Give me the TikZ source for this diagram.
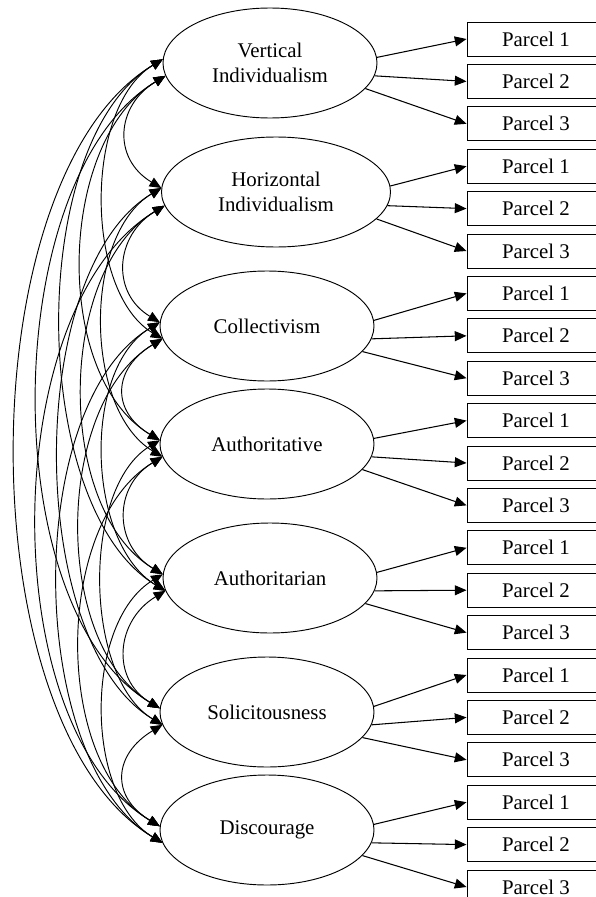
\documentclass[tikz,border=0pt]{standalone}
\usepackage{fontspec}
\setmainfont{Liberation Serif}
\usetikzlibrary{arrows.meta,shapes.geometric}

\begin{document}
\begin{tikzpicture}[
        x=0.03cm, y=-0.03cm,
        every node/.style={font=\fontsize{17.8}{21.3}\selectfont, align=center, line width=0.8pt},
        latent/.style={draw, ellipse, minimum width=6.42cm, minimum height=3.3cm, inner sep=0pt},
        parcel/.style={draw, rectangle, minimum width=4.14cm, minimum height=1.02cm, inner sep=0pt},
        load/.style={draw, line width=0.9pt, -{Triangle[length=10pt,width=8.5pt]}},
        cov/.style={draw, line width=0.8pt, {Triangle[length=10pt,width=8.5pt]}-{Triangle[length=10pt,width=8.5pt]}},
    ]
    \useasboundingbox (0,0) rectangle (596,897);
    \clip (0,0) rectangle (596,897);

    % factors
    \node[latent](f1) at (270,63) {Vertical\\Individualism};
    \node[latent, minimum width=6.87cm](f2) at (276,192) {Horizontal\\Individualism};
    \node[latent](f3) at (267,326) {Collectivism};
    \node[latent](f4) at (267,444) {Authoritative};
    \node[latent](f5) at (270,578) {Authoritarian};
    \node[latent](f6) at (267,712) {Solicitousness};
    \node[latent](f7) at (267,830) {Discourage};

    % parcels and loadings
    \foreach \f in {1,...,7}{
        \foreach \p/\a in {1/3,2/-7,3/-15}{
            \pgfmathsetmacro{\py}{39+42.4*(3*(\f-1)+\p-1)}
            \node[parcel](p\f-\p) at (536,\py) {Parcel \p};
            \draw[load] (f\f.\a) -- (p\f-\p.west);
        }
    }

    % covariances
    \foreach \i in {1,...,6}{
        \pgfmathtruncatemacro{\k}{\i+1}
        \foreach \j in {\k,...,7}{
            \pgfmathsetmacro{\c}{(15+22*(\j-\i))/0.75}
            \pgfmathsetmacro{\h}{0.6*\c}
            \pgfmathtruncatemacro{\odd}{mod(\j-\i,2)}
            \ifnum\odd=1
                \draw[cov] (f\i.187) .. controls +(-\c,\h) and +(-\c,-\h) .. (f\j.178);
            \else
                \draw[cov] (f\i.178) .. controls +(-\c,\h) and +(-\c,-\h) .. (f\j.187);
            \fi
        }
    }
\end{tikzpicture}
\end{document}
